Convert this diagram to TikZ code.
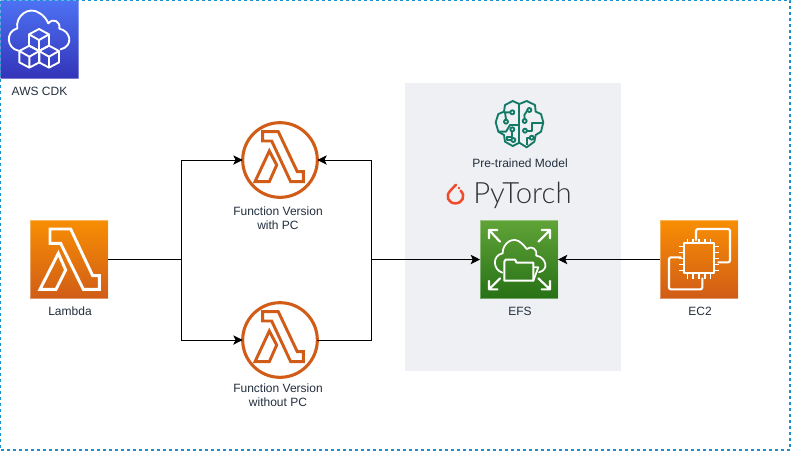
\documentclass[tikz,border=0pt]{standalone}
\usepackage{fontspec}
\setmainfont{Liberation Sans}
\newfontfamily\torchfont{Lato Light}
\usetikzlibrary{arrows.meta}
\definecolor{txt}{HTML}{232F3E}
\definecolor{lamb}{HTML}{D05C17}
\definecolor{brainc}{HTML}{147A66}
\definecolor{orange1}{HTML}{F78E04}
\definecolor{orange2}{HTML}{D05C17}
\tikzset{
  x=0.75pt,y=-0.75pt,
  iconbox/.style={minimum size=58.5pt,inner sep=0pt,outer sep=0pt,draw=white,draw opacity=.35,line width=.6pt},
  orangebox/.style={iconbox,top color=orange1,bottom color=orange2},
  lbl/.style={font=\fontsize{9}{10.5}\selectfont,text=txt,align=center,inner sep=0pt},
  conn/.style={line width=.75pt,-{Stealth[length=7pt,width=7pt,inset=1.6pt]}},
  plain/.style={line width=.75pt},
  icon/.style={white,line width=1.6pt,line join=round,line cap=round},
  fn/.style={circle,draw=lamb,line width=2.3pt,minimum size=56pt,inner sep=0pt,outer sep=0pt},
  zoomed/.style={x=0.25pt,y=-0.25pt},
}
\newcommand{\cubeat}[2]{%
  \draw[icon,line width=1.4pt] (#1,#2-33) -- (#1+30,#2-17) -- (#1+30,#2+17) -- (#1,#2+33) -- (#1-30,#2+17) -- (#1-30,#2-17) -- cycle
    (#1-30,#2-17) -- (#1,#2) -- (#1+30,#2-17) (#1,#2) -- (#1,#2+33);}
\begin{document}
\begin{tikzpicture}
\useasboundingbox (0,0) rectangle (791,451);
\fill[white] (0,0) rectangle (791,451);
\fill[fill={rgb,255:red,238;green,240;blue,244}] (405,83) rectangle (621,371);

% boxes
\node[iconbox,top color={rgb,255:red,77;green,114;blue,243},bottom color={rgb,255:red,51;green,52;blue,185}] (cdk) at (39.5,39) {};
\node[orangebox] (lambda) at (69,259.5) {};
\node[orangebox] (ec2) at (699,259.5) {};
\node[iconbox,top color={rgb,255:red,96;green,163;blue,55},bottom color={rgb,255:red,39;green,113;blue,22}] (efs) at (519,259.5) {};
\node[fn] (fa) at (280,160) {};
\node[fn] (fb) at (280,340) {};
\coordinate (split) at (181,259.5);
\coordinate (join) at (371,259.5);

% connectors
\draw[plain] (lambda.east) -- (split);
\draw[conn] (split) |- (fa.west);
\draw[conn] (split) |- (fb.west);
\draw[conn] (join) |- (fa.east);
\draw[plain] (fb.east) -| (join);
\draw[conn] (join) -- (efs.west);
\draw[conn] (ec2.west) -- (efs.east);

% lambda icons in circles
\foreach \c in {fa,fb}{
\begin{scope}[shift={(\c.center)}]
\draw[lamb,line width=2.2pt,line join=miter]
  (-17.3,-28.3) -- (-1.7,-28.3) -- (17.3,11.7) -- (23.3,11.7) -- (23.3,21.7) -- (10.7,21.7) -- (-8.3,-19) -- (-17.3,-19) -- cycle
  (-10.7,-9) -- (-3.3,5) -- (-10.7,21.7) -- (-25,21.7) -- cycle;
\end{scope}}

% lambda big
\begin{scope}[shift={(20,210)},zoomed]
\draw[icon,line width=2.2pt,line join=miter]
  (90,57) -- (152,57) -- (218,197) -- (238,197) -- (238,238) -- (190,238) -- (122,100) -- (90,100) -- cycle
  (115,130) -- (137,180) -- (108,238) -- (60,238) -- cycle;
\end{scope}

% EC2
\begin{scope}[shift={(650,210)},zoomed]
\draw[icon,line width=1.5pt] (103,100) rectangle (192,190);
\draw[icon,rounded corners=1.5pt] (138,90) -- (138,57) -- (240,57) -- (240,157) -- (205,157);
\draw[icon,rounded corners=1.5pt] (92,142) -- (57,142) -- (57,238) -- (157,238) -- (157,205);
\foreach \t in {112,129,147,165,182}{
  \draw[icon,line width=1.2pt,line cap=butt] (\t,100) -- (\t,86) (\t,190) -- (\t,206);}
\foreach \t in {109,127,145,163,181}{
  \draw[icon,line width=1.2pt,line cap=butt] (103,\t) -- (88,\t) (192,\t) -- (207,\t);}
\end{scope}

% EFS
\begin{scope}[shift={(465,210)},zoomed]
\draw[icon] (105,95) -- (72,60) (72,85) -- (72,60) -- (97,60);
\draw[icon] (220,95) -- (255,60) (230,60) -- (255,60) -- (255,85);
\draw[icon] (105,205) -- (72,238) (72,213) -- (72,238) -- (97,238);
\draw[icon] (220,205) -- (255,238) (255,213) -- (255,238) -- (230,238);
\draw[icon,line width=1.3pt] (112,188) .. controls (82,178) and (82,135) .. (113,130)
  .. controls (112,100) and (145,75) .. (170,100)
  .. controls (178,108) and (182,112) .. (185,117)
  .. controls (200,105) and (218,118) .. (214,137)
  .. controls (240,140) and (256,178) .. (222,187);
\draw[icon] (118,212) -- (118,155) -- (122,149) -- (150,149) -- (155,158) -- (205,158) -- (205,212) -- cycle;
\draw[icon,line width=1.3pt] (205,212) -- (220,172) -- (207,172);
\end{scope}

% CDK
\begin{scope}[shift={(0,0)},zoomed]
\draw[icon,line width=1.4pt] (55,152) .. controls (20,145) and (15,95) .. (52,85)
  .. controls (45,50) and (85,15) .. (120,40)
  .. controls (132,48) and (140,58) .. (145,70)
  .. controls (160,52) and (182,65) .. (178,86)
  .. controls (212,92) and (222,138) .. (182,148);
\cubeat{117}{120}
\cubeat{88}{170}
\cubeat{147}{170}
\end{scope}

% Brain
\begin{scope}[shift={(430,90)},zoomed]
\begin{scope}[line width=1.4pt,brainc,line join=round]
\draw (268,42) -- (248,33) -- (225,45) -- (222,65) -- (205,72) -- (197,97) -- (205,125) -- (222,135) -- (225,155) -- (248,168) -- (268,158) -- (290,172) -- (313,155) -- (317,135) -- (333,125) -- (340,97) -- (333,72) -- (317,65) -- (315,45) -- (290,33) -- cycle;
\draw (268,42) -- (268,158);
\draw (240,67) -- (225,67) -- (228,88);
\draw (205,125) -- (228,125) -- (240,105) -- (268,105);
\draw (247,125) -- (247,140) -- (232,140) -- (232,150) -- (243,150);
\draw (293,60) -- (283,75) -- (284,86);
\draw (292,122) -- (305,122) -- (305,100) -- (340,100);
\draw (300,143) -- (290,143) -- (290,165);
\foreach \p in {(247,67),(228,95),(247,118),(250,150),(298,60),(284,93),(285,122),(305,143)}
  \draw[fill={rgb,255:red,238;green,240;blue,244}] \p circle[radius=6];
\end{scope}
\end{scope}

% PyTorch logo
\begin{scope}[shift={(430,90)},zoomed]
\draw[line width=1.9pt,color={rgb,255:red,238;green,76;blue,44},line cap=round]
  (78,284) -- (61,302) .. controls (45,318) and (55,340) .. (76,340) .. controls (97,340) and (108,318) .. (92,302);
\fill[color={rgb,255:red,238;green,76;blue,44}] (87,294) circle[radius=4];
\end{scope}
\node[font=\torchfont\fontsize{22}{22}\selectfont,text={rgb,255:red,50;green,50;blue,50},anchor=base west,inner sep=0pt] (pt) at (473,203) {PyTorch};

% labels
\node[lbl] (lcdk) at (39.5,91) {AWS CDK};
\node[lbl] (llam) at (70,311) {Lambda};
\node[lbl] (lefs) at (520,311) {EFS};
\node[lbl] (lec2) at (700,311) {EC2};
\node[lbl] (lfa) at (278,218.5) {Function Version\\with PC};
\node[lbl] (lfb) at (278,395) {Function Version\\without PC};
\node[lbl] (lpre) at (520,163) {Pre-trained Model};

% frame
\draw[color={rgb,255:red,25;green,145;blue,205},line width=1.1pt,dash pattern=on 2.25pt off 2.25pt] (0.5,0.5) rectangle (790,450);
\end{tikzpicture}
\end{document}
